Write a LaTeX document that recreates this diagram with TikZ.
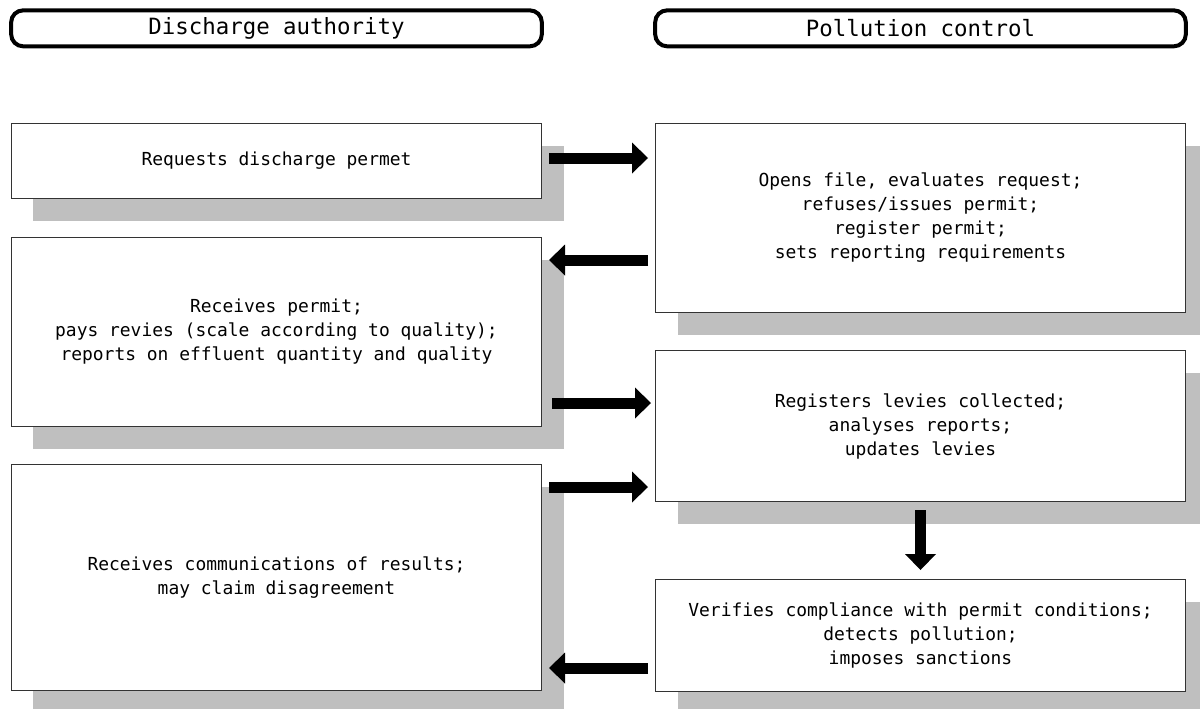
\documentclass[tikz,border=0pt]{standalone}
\usepackage{fontspec}
\newfontfamily\boxfont{DejaVu Sans Mono}
\usetikzlibrary{arrows.meta,positioning,shadows,calc}

\begin{document}
\begin{tikzpicture}[node distance=28.5pt,every node/.style={align=center},
  box/.style={draw=black!80,line width=0.75pt,fill=white,minimum width=397.5pt,inner sep=0pt,
    font=\boxfont\fontsize{13.45}{18}\selectfont,
    drop shadow={shadow xshift=16.5pt,shadow yshift=-16.5pt,fill=black!25,opacity=1}},
  head/.style={draw,line width=3pt,rounded corners=9pt,minimum width=398pt,minimum height=27pt,
    inner sep=0pt,font=\boxfont\fontsize{16.8}{20}\selectfont},
  blk/.style={line width=8.25pt,-{Triangle[width=23.25pt,length=12pt,line width=0pt]}}]
\useasboundingbox (-8.25pt,92.25pt) rectangle (891.75pt,-438.75pt);
\node[box,minimum height=56.25pt,anchor=north west] (L1) at (0,0) {Requests discharge permet};
\node[box,minimum height=141.75pt,below=of L1] (L2) {Receives permit;\\pays revies (scale according to quality);\\reports on effluent quantity and quality};
\node[box,minimum height=169.5pt,below=27.75pt of L2] (L3) {Receives communications of results;\\may claim disagreement};
\node[box,minimum height=141.75pt,right=84.75pt of L1.north east,anchor=north west] (R1) {Opens file, evaluates request;\\refuses/issues permit;\\register permit;\\sets reporting requirements};
\node[box,minimum height=113.25pt,below=27.75pt of R1] (R2) {Registers levies collected;\\analyses reports;\\updates levies};
\node[box,minimum height=84pt,below=57.75pt of R2] (R3) {Verifies compliance with permit conditions;\\detects pollution;\\imposes sanctions};
\node[head,above=56pt of L1] (hdis) {Discharge authority};
\node[head,above=56pt of R1] (hpol) {Pollution control};
% flow between the two sides
\draw[blk] ([shift={(5.25pt,-26.25pt)}]L1.north east) -- ($(R1.west |- L1.north)+(-5.25pt,-26.25pt)$);
\draw[blk] ($(R1.west |- L2.north)+(-5.25pt,-17.25pt)$) -- ([shift={(5.25pt,-17.25pt)}]L2.north east);
\draw[blk] ([shift={(7.5pt,-124.5pt)}]L2.north east) -- ($(R2.west |- L2.north)+(-3pt,-124.5pt)$);
\draw[blk] ([shift={(5.25pt,-17.25pt)}]L3.north east) -- ($(R2.west |- L3.north)+(-5.25pt,-17.25pt)$);
\draw[blk] ($(R3.west |- L3.north)+(-5.25pt,-153pt)$) -- ([shift={(5.25pt,-153pt)}]L3.north east);
\draw[blk] ([yshift=-6pt]R2.south) -- ([yshift=6.75pt]R3.north);
\end{tikzpicture}
\end{document}
